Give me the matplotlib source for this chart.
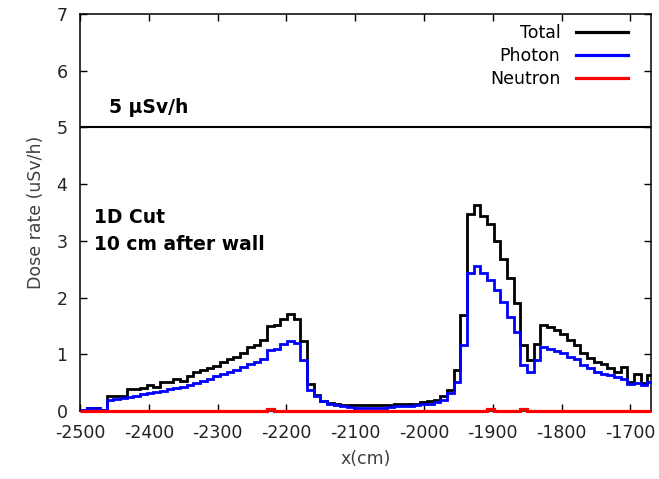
"""1D cut of the dose rate 10 cm after the wall (total / photon / neutron)."""
import matplotlib
matplotlib.use("Agg")
import matplotlib.pyplot as plt
import numpy as np

plt.rcParams["font.family"] = ["DejaVu Sans"]
plt.rcParams["axes.unicode_minus"] = False

# Tally mesh along x (cm): fixed-width bins starting at the left edge of the plot.
X_START = -2500.0
BIN_WIDTH = 9.7
X_END = -1670.0

# Dose rate per bin (uSv/h).
total = [
    0.02, 0.06, 0.06, 0.02, 0.26, 0.26, 0.27, 0.38, 0.38, 0.40,
    0.46, 0.43, 0.52, 0.52, 0.56, 0.53, 0.62, 0.69, 0.73, 0.75,
    0.80, 0.86, 0.91, 0.95, 1.03, 1.12, 1.17, 1.25, 1.49, 1.52,
    1.63, 1.71, 1.63, 1.24, 0.48, 0.28, 0.18, 0.14, 0.12, 0.10,
    0.10, 0.10, 0.10, 0.10, 0.10, 0.10, 0.11, 0.12, 0.12, 0.13,
    0.13, 0.16, 0.17, 0.20, 0.26, 0.37, 0.72, 1.69, 3.47, 3.63,
    3.43, 3.30, 3.00, 2.68, 2.35, 1.90, 1.17, 0.90, 1.19, 1.52,
    1.48, 1.43, 1.36, 1.26, 1.16, 1.02, 0.93, 0.87, 0.83, 0.75,
    0.69, 0.78, 0.52, 0.66, 0.49, 0.63,
]
photon = [
    0.02, 0.06, 0.06, 0.02, 0.20, 0.21, 0.23, 0.25, 0.27, 0.30,
    0.32, 0.34, 0.36, 0.38, 0.40, 0.43, 0.46, 0.49, 0.53, 0.56,
    0.61, 0.65, 0.69, 0.73, 0.78, 0.82, 0.87, 0.92, 1.07, 1.10,
    1.19, 1.24, 1.20, 0.90, 0.37, 0.26, 0.18, 0.12, 0.10, 0.08,
    0.07, 0.06, 0.06, 0.06, 0.06, 0.06, 0.07, 0.08, 0.08, 0.09,
    0.10, 0.12, 0.13, 0.15, 0.20, 0.31, 0.52, 1.16, 2.44, 2.55,
    2.43, 2.31, 2.13, 1.93, 1.66, 1.40, 0.81, 0.68, 0.90, 1.13,
    1.10, 1.06, 1.02, 0.96, 0.91, 0.81, 0.75, 0.69, 0.66, 0.63,
    0.60, 0.57, 0.48, 0.50, 0.45, 0.52,
]
neutron = [0.003] * 86
neutron[28] = 0.03
neutron[61] = 0.03
neutron[66] = 0.03

limit_value = 5.0
limit_label = "5 µSv/h"
note_lines = ["1D Cut", "10 cm after wall"]
x_ticks = list(range(-2500, -1699, 100))
y_ticks = list(range(0, 8))


def main() -> None:
    n_bins = len(total)
    edges = X_START + BIN_WIDTH * np.arange(n_bins + 1)
    edges = np.minimum(edges, X_END)

    fig = plt.figure(figsize=(6.59, 4.79), dpi=100)
    ax = fig.add_axes([80 / 659, 1 - 411 / 479, 571 / 659, 397 / 479])

    ax.stairs(total, edges, baseline=None, color="black", lw=2.0,
              label="Total", clip_on=False, zorder=3)
    ax.stairs(photon, edges, baseline=None, color="#0000ff", lw=2.0,
              label="Photon", clip_on=False, zorder=4)
    ax.stairs(neutron, edges, baseline=None, color="#ff0000", lw=2.3,
              label="Neutron", clip_on=False, zorder=5)

    ax.axhline(limit_value, color="black", lw=1.5, zorder=2)
    ax.text(-2458, 5.26, limit_label, fontsize=13.5, fontweight="bold",
            va="baseline", ha="left")
    ax.text(-2480, 3.31, note_lines[0], fontsize=13.5, fontweight="bold",
            va="baseline", ha="left")
    ax.text(-2480, 2.84, note_lines[1], fontsize=13.5, fontweight="bold",
            va="baseline", ha="left")

    ax.set_xlim(X_START, X_END)
    ax.set_ylim(0, 7)
    ax.set_xticks(x_ticks)
    ax.set_yticks(y_ticks)
    ax.tick_params(direction="in", length=5, width=1.0, top=True, right=True,
                   labelsize=12.5, labelcolor="#222222", pad=9)
    for sp in ax.spines.values():
        sp.set_linewidth(1.1)

    ax.set_xlabel("x(cm)", fontsize=12.5, color="#404040", labelpad=6)
    ax.set_ylabel("Dose rate (uSv/h)", fontsize=12.5, color="#404040", labelpad=8)

    leg = ax.legend(loc="upper right", bbox_to_anchor=(0.96, 0.975),
                    frameon=False, markerfirst=False, fontsize=12.5,
                    handlelength=3.0, handletextpad=0.9, labelspacing=0.28,
                    borderpad=0, borderaxespad=0)
    for line in leg.get_lines():
        line.set_linewidth(2.3)

    fig.savefig("out.png", dpi=100)
    plt.close(fig)


if __name__ == "__main__":
    main()
